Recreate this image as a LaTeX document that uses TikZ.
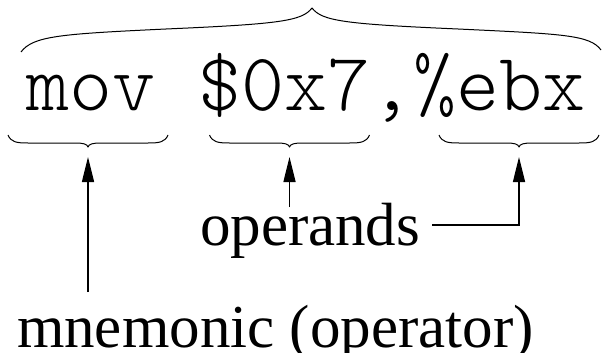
\documentclass[tikz,border=0pt]{standalone}
\usepackage{fontspec}
\setmainfont{Liberation Serif}
\setmonofont{Latin Modern Mono Light}
\usetikzlibrary{arrows.meta}

\tikzset{
  label text/.style={inner sep=0pt, outer sep=0pt, anchor=base west,
    font=\fontsize{61}{61}\selectfont},
  code text/.style={inner sep=0pt, outer sep=0pt, anchor=base west,
    font=\ttfamily\fontsize{82}{82}\selectfont},
  bracepath/.style={line width=1pt, line join=round},
  pointer/.style={line width=1.3pt, -{Triangle[length=25pt,width=12pt]}},
  % small curly brace opening downwards, 160 wide, tip 12 below its ends
  ubrace/.pic={
    \draw[bracepath] (-80,0) .. controls (-77,7) and (-72,8) .. (-60,8)
      -- (-14,8) .. controls (-4,8) and (-1,9) .. (0,12)
      .. controls (1,9) and (4,8) .. (14,8)
      -- (60,8) .. controls (72,8) and (77,7) .. (80,0);
    \coordinate (-tip) at (0,12);
  }
}

\begin{document}
\begin{tikzpicture}[x=1pt,y=-1pt]
  \useasboundingbox (0,0) rectangle (602,353);

  % instruction line
  \node[code text] (code) at (26,110) {mov \$0x7,\%ebx};

  % large brace over the whole instruction
  \draw[bracepath] (21,52) .. controls (33,36) and (60,34) .. (166,29)
    .. controls (280,24) and (302,21) .. (312,8)
    .. controls (322,21) and (344,24) .. (458,29)
    .. controls (564,34) and (590,35) .. (601,50);

  % braces under mnemonic and the two operands
  \pic (b1) at (88,135) {ubrace};
  \pic (b2) at (289.5,135) {ubrace};
  \pic (b3) at (519,135) {ubrace};

  % labels
  \node[label text] (ops) at (200,245) {operands};
  \node[label text] (mn) at (17,347) {mnemonic (operator)};

  % pointers
  \coordinate (mnfoot) at (88,292);
  \coordinate (opfoot) at (289.5,207);
  \coordinate (bend) at (519,225);
  \coordinate (opstart) at (432,225);

  \draw[pointer] (mnfoot) -- ([yshift=-10pt]b1-tip);
  \draw[pointer] (opfoot) -- ([yshift=-10pt]b2-tip);
  \draw[pointer] (opstart) -- (bend) -- ([yshift=-10pt]b3-tip);
\end{tikzpicture}
\end{document}
